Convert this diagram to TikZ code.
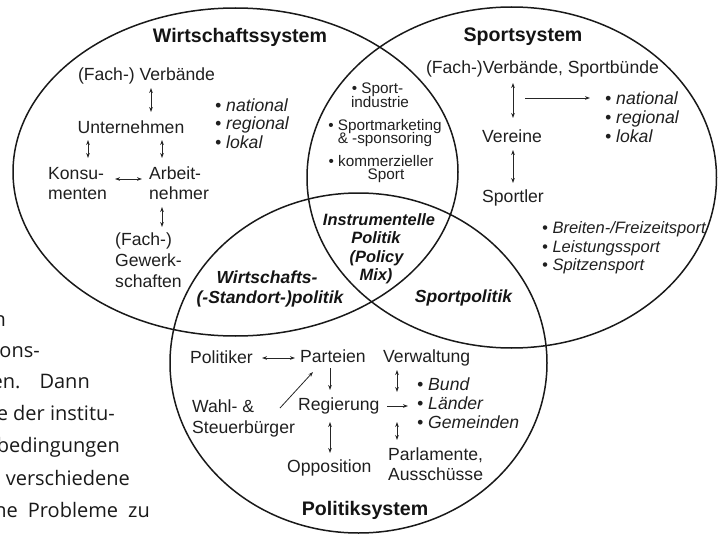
\documentclass[tikz,border=0pt]{standalone}
\usepackage{fontspec}
\setmainfont{Liberation Sans}
\newfontfamily\bookfont{Open Sans}
\newcommand{\bookstyle}{\fontsize{20}{24}\selectfont\bookfont}
\usetikzlibrary{arrows.meta}
\tikzset{
  t/.style={inner sep=0pt, text=black!88, font=\fontsize{17.6}{20}\selectfont},
  it/.style={inner sep=0pt, text=black!88, font=\fontsize{17.6}{20}\selectfont\itshape},
  itsm/.style={inner sep=0pt, text=black!88, font=\fontsize{16.5}{19}\selectfont\itshape},
  title/.style={inner sep=0pt, text=black!92, font=\fontsize{19.6}{22}\selectfont\bfseries},
  lens/.style={inner sep=0pt, text=black!88, font=\fontsize{15.3}{16}\selectfont},
  bilens/.style={inner sep=0pt, text=black!92, font=\fontsize{16.4}{18}\selectfont\bfseries\itshape},
  bi/.style={inner sep=0pt, text=black!92, font=\fontsize{17.5}{20}\selectfont\bfseries\itshape},
  book/.style={inner sep=0pt, anchor=base east, text=black!90, font=\bookstyle},
  circ/.style={draw=black!90, line width=1.5pt},
  ar/.style={-{Stealth[length=5pt,width=3.6pt]}, line width=0.8pt, draw=black!85},
  dar/.style={{Stealth[length=5pt,width=3.6pt]}-{Stealth[length=5pt,width=3.6pt]}, line width=0.8pt, draw=black!85},
}
\begin{document}
\begin{tikzpicture}[x=1pt,y=-1pt]
\useasboundingbox (0,0) rectangle (718,535);
\begin{scope}
\clip (0,0) rectangle (718,535);
% background book text
\node[book] (b1) at (6,326) {n};
\node[book] (b2) at (40,357) {ons-};
\node[book] (b3) at (90,388) {en.\hspace{19pt}Dann};
\node[book] (b4) at (115,420) {e der institu-};
\node[book] (b5) at (120,452) {bedingungen};
\node[book] (b6) at (130,485) {verschiedene};
\node[book] (b7) at (150,517) {ne\hspace{10pt}Probleme\hspace{10pt}zu};

% ellipses
\draw[circ] (235.5,172) ellipse [x radius=222.5pt, y radius=164pt];
\draw[circ] (511.75,177.5) ellipse [x radius=204.75pt, y radius=170.5pt];
\draw[circ] (358.5,363) ellipse [x radius=188.5pt, y radius=170pt];

% Wirtschaftssystem
\node[title, anchor=base] (wt) at (240,43) {Wirtschaftssystem};
\node[t, anchor=base] (wverb) at (146.5,81) {(Fach-) Verbände};
\node[t, anchor=base] (wunt) at (131,133) {Unternehmen};
\node[it, anchor=base west] (wn1) at (215,111) {\textbullet\ national};
\node[it, anchor=base west] (wn2) at (215,129.5) {\textbullet\ regional};
\node[it, anchor=base west] (wn3) at (215,148) {\textbullet\ lokal};
\node[t, anchor=base west] (wk1) at (48,179) {Konsu-};
\node[t, anchor=base west] (wk2) at (48,199) {menten};
\node[t, anchor=base west] (wa1) at (149,179) {Arbeit-};
\node[t, anchor=base west] (wa2) at (149,199) {nehmer};
\node[t, anchor=base west] (wg1) at (115,245) {(Fach-)};
\node[t, anchor=base west] (wg2) at (115,266) {Gewerk-};
\node[t, anchor=base west] (wg3) at (115,287) {schaften};

\coordinate (w1a) at (151,88);  \coordinate (w1b) at (151,112);
\coordinate (w2a) at (88,140);  \coordinate (w2b) at (88,158);
\coordinate (w3a) at (162,140); \coordinate (w3b) at (162,158);
\coordinate (w4a) at (115,179); \coordinate (w4b) at (142,179);
\coordinate (w5a) at (162,207); \coordinate (w5b) at (162,227);
\draw[dar] (w1a) -- (w1b);
\draw[dar] (w2a) -- (w2b);
\draw[dar] (w3a) -- (w3b);
\draw[dar] (w4a) -- (w4b);
\draw[dar] (w5a) -- (w5b);

% lens Wirtschaft/Sport
\node[lens, anchor=base] (l1) at (377.5,94) {\textbullet\ Sport-};
\node[lens, anchor=base] (l2) at (380,107) {industrie};
\node[lens, anchor=base] (l3) at (385,130) {\textbullet\ Sportmarketing};
\node[lens, anchor=base] (l4) at (385,143) {\& -sponsoring};
\node[lens, anchor=base] (l5) at (381,166) {\textbullet\ kommerzieller};
\node[lens, anchor=base] (l6) at (386,179) {Sport};

% centre
\node[bilens, anchor=base] (c1) at (379,225) {Instrumentelle};
\node[bilens, anchor=base] (c2) at (376,243) {Politik};
\node[bilens, anchor=base] (c3) at (376.5,262) {(Policy};
\node[bilens, anchor=base] (c4) at (376,280) {Mix)};

% Sportsystem
\node[title, anchor=base] (st) at (523,42) {Sportsystem};
\node[t, anchor=base] (sverb) at (542.5,74) {(Fach-)Verbände, Sportbünde};
\node[it, anchor=base west] (sn1) at (605,104) {\textbullet\ national};
\node[it, anchor=base west] (sn2) at (605,123) {\textbullet\ regional};
\node[it, anchor=base west] (sn3) at (605,142) {\textbullet\ lokal};
\node[t, anchor=base west] (sver) at (482,142) {Vereine};
\node[t, anchor=base west] (sspo) at (482,202) {Sportler};
\node[itsm, anchor=base west] (sb1) at (542,233) {\textbullet\ Breiten-/Freizeitsport};
\node[itsm, anchor=base west] (sb2) at (542,252) {\textbullet\ Leistungssport};
\node[itsm, anchor=base west] (sb3) at (542,270.5) {\textbullet\ Spitzensport};

\coordinate (s1a) at (513,83);  \coordinate (s1b) at (513,118);
\coordinate (s2a) at (525,98);  \coordinate (s2b) at (590,98);
\coordinate (s3a) at (513,150); \coordinate (s3b) at (513,183);
\draw[dar] (s1a) -- (s1b);
\draw[ar] (s2a) -- (s2b);
\draw[dar] (s3a) -- (s3b);

% overlaps with Politik
\node[bi, anchor=base] (wp1) at (267,283) {Wirtschafts-};
\node[bi, anchor=base] (wp2) at (270,303) {(-Standort-)politik};
\node[bi, anchor=base] (sp) at (463.5,302) {Sportpolitik};

% Politiksystem
\node[t, anchor=base west] (ppol) at (190,363) {Politiker};
\node[t, anchor=base west] (ppar) at (300,362) {Parteien};
\node[t, anchor=base west] (pw1) at (192,412) {Wahl- \&};
\node[t, anchor=base west] (pw2) at (192,433) {Steuerbürger};
\node[t, anchor=base west] (preg) at (298,410) {Regierung};
\node[t, anchor=base west] (popp) at (287,472) {Opposition};
\node[t, anchor=base west] (pver) at (383,362) {Verwaltung};
\node[it, anchor=base west] (pb1) at (417,390) {\textbullet\ Bund};
\node[it, anchor=base west] (pb2) at (417,409) {\textbullet\ Länder};
\node[it, anchor=base west] (pb3) at (417,428) {\textbullet\ Gemeinden};
\node[t, anchor=base west] (ppa1) at (388,460) {Parlamente,};
\node[t, anchor=base west] (ppa2) at (388,480) {Ausschüsse};
\node[title, anchor=base] (pt) at (365,515) {Politiksystem};

\coordinate (p1a) at (262,358); \coordinate (p1b) at (295,358);
\coordinate (p2a) at (330,368); \coordinate (p2b) at (330,390);
\coordinate (p3a) at (280,408); \coordinate (p3b) at (313,372);
\coordinate (p4a) at (387,406); \coordinate (p4b) at (408,406);
\coordinate (p5a) at (330,422); \coordinate (p5b) at (330,453);
\coordinate (p6a) at (397,370); \coordinate (p6b) at (397,392);
\coordinate (p7a) at (397,422); \coordinate (p7b) at (397,440);
\draw[dar] (p1a) -- (p1b);
\draw[ar] (p2a) -- (p2b);
\draw[ar] (p3a) -- (p3b);
\draw[ar] (p4a) -- (p4b);
\draw[dar] (p5a) -- (p5b);
\draw[dar] (p6a) -- (p6b);
\draw[dar] (p7a) -- (p7b);
\end{scope}
\end{tikzpicture}
\end{document}
